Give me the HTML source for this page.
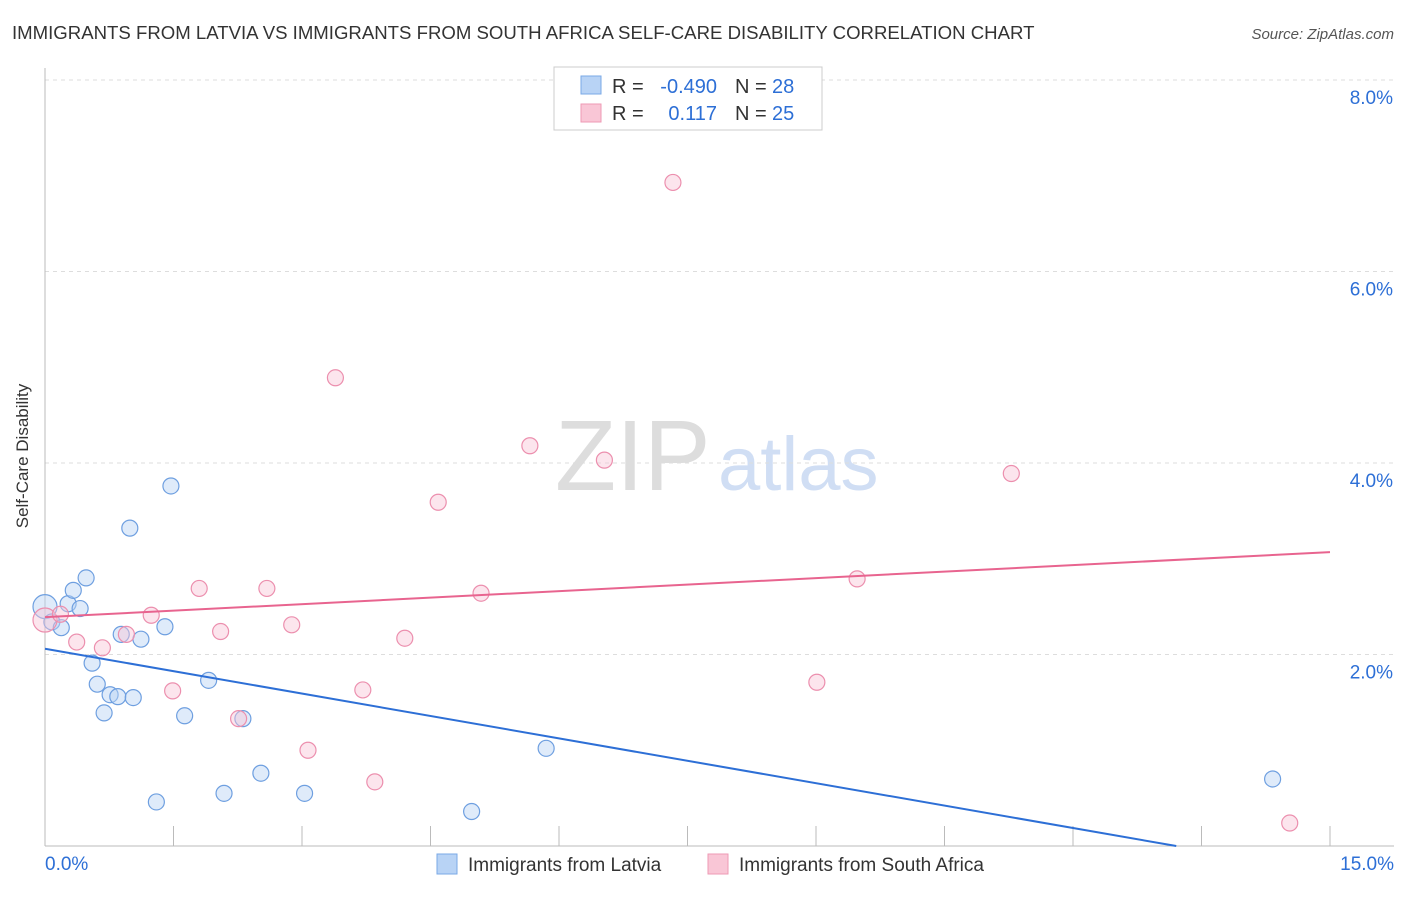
<!DOCTYPE html>
<html><head><meta charset="utf-8"><style>
body{margin:0;background:#fff;font-family:"Liberation Sans",sans-serif}
svg text{font-family:"Liberation Sans",sans-serif}
</style></head><body>
<svg id="chart" width="1406" height="892" xmlns="http://www.w3.org/2000/svg">
<text x="12" y="39" font-size="18.6" fill="#333">IMMIGRANTS FROM LATVIA VS IMMIGRANTS FROM SOUTH AFRICA SELF-CARE DISABILITY CORRELATION CHART</text>
<text x="1394" y="39" font-size="15" fill="#555" font-style="italic" text-anchor="end">Source: ZipAtlas.com</text>
<text x="28" y="456" font-size="17" fill="#333" text-anchor="middle" transform="rotate(-90 28 456)">Self-Care Disability</text>
<text x="555" y="490" font-size="100" fill="#ddd" font-family="Liberation Serif">ZIP</text>
<text x="718" y="490" font-size="76" fill="#d0def4">atlas</text>
<g id="grid"></g><g id="axes"></g><g id="marks"></g>
<g>
<rect x="554" y="67" width="268" height="63" fill="#fff" stroke="#ccc"/>
<rect x="581" y="76" width="20" height="18" fill="#b8d3f5" stroke="#7aa8e6"/>
<rect x="581" y="104" width="20" height="18" fill="#f9c6d6" stroke="#ee9ab4"/>
<text x="612" y="93" font-size="20" fill="#333">R =</text>
<text x="717" y="93" font-size="20" fill="#2d6fd6" text-anchor="end">-0.490</text>
<text x="735" y="93" font-size="20" fill="#333">N =</text>
<text x="772" y="93" font-size="20" fill="#2d6fd6">28</text>
<text x="612" y="120" font-size="20" fill="#333">R =</text>
<text x="717" y="120" font-size="20" fill="#2d6fd6" text-anchor="end">0.117</text>
<text x="735" y="120" font-size="20" fill="#333">N =</text>
<text x="772" y="120" font-size="20" fill="#2d6fd6">25</text>
</g>
<g>
<rect x="437" y="854" width="20" height="20" fill="#b8d3f5" stroke="#7aa8e6"/>
<text x="468" y="871" font-size="19" fill="#333">Immigrants from Latvia</text>
<rect x="708" y="854" width="20" height="20" fill="#f9c6d6" stroke="#ee9ab4"/>
<text x="739" y="871" font-size="19" fill="#333">Immigrants from South Africa</text>
</g>
</svg>
<script>
const latviaX=[0,0.08,0.19,0.27,0.33,0.41,0.48,0.55,0.61,0.69,0.76,0.85,0.89,1.03,0.99,1.12,1.30,1.40,1.47,1.63,1.91,2.09,2.31,2.52,3.03,4.98,5.85,14.33];
const latviaY=[2.50,2.34,2.28,2.53,2.67,2.48,2.80,1.91,1.69,1.39,1.58,1.56,2.21,1.55,3.32,2.16,0.46,2.29,3.76,1.36,1.73,0.55,1.33,0.76,0.55,0.36,1.02,0.70];
const africaX=[0,0.18,0.37,0.67,0.95,1.24,1.49,1.80,2.05,2.26,2.59,2.88,3.07,3.39,3.71,3.85,4.20,4.59,5.09,5.66,6.53,7.33,9.01,9.48,11.28,14.53];
const africaY=[2.36,2.42,2.13,2.07,2.21,2.41,1.62,2.69,2.24,1.33,2.69,2.31,1.00,4.89,1.63,0.67,2.17,3.59,2.64,4.18,4.03,6.93,1.71,2.79,3.89,0.24];
const latviaTrend=[2.06,-0.156];
const africaTrend=[2.39,0.0453];
const yTicks=[2,4,6,8];
const xTickVals=[0,1.5,3,4.5,6,7.5,9,10.5,12,13.5,15];
const NS="http://www.w3.org/2000/svg";
const sx=v=>45+v*1285/15, sy=v=>846-v*95.75;
function mk(t,a,p){const e=document.createElementNS(NS,t);for(const k in a)e.setAttribute(k,a[k]);document.getElementById(p).appendChild(e);return e;}
yTicks.forEach(t=>{
 const l=mk('line',{x1:45,x2:1394,y1:sy(t),y2:sy(t),stroke:'#ddd','stroke-dasharray':'4,4'},'grid');
 
 
 const tx=mk('text',{x:1393,y:sy(t)+24,'font-size':19,fill:'#2d6fd6','text-anchor':'end'},'grid');tx.textContent=t.toFixed(1)+'%';
 
 
});
const ya=mk('line',{x1:45,x2:45,y1:68,y2:846,stroke:'#bbb'},'axes');


const xa=mk('line',{x1:45,x2:1394,y1:846,y2:846,stroke:'#bbb'},'axes');


xTickVals.forEach(t=>{const l=mk('line',{x1:sx(t),x2:sx(t),y1:826,y2:846,stroke:'#bbb'},'axes');
 
 });
const x0=mk('text',{x:45,y:870,'font-size':19,fill:'#2d6fd6'},'axes');x0.textContent='0.0%';


const x1=mk('text',{x:1394,y:870,'font-size':19,fill:'#2d6fd6','text-anchor':'end'},'axes');x1.textContent='15.0%';


function pts(X,Y,fill,stroke,name){X.forEach((x,i)=>{const c=mk('circle',{cx:sx(x),cy:sy(Y[i]),r:i==0?12:8,fill:fill,'fill-opacity':0.45,stroke:stroke,'stroke-width':1.2},'marks');
 
 });}
pts(latviaX,latviaY,'#b8d3f5','#6e9fe0','latvia-point');
pts(africaX,africaY,'#f9c6d6','#ec8fae','south-africa-point');
const lEnd=Math.min(15,-latviaTrend[0]/latviaTrend[1]);
const lt=mk('line',{x1:sx(0),y1:sy(latviaTrend[0]),x2:sx(lEnd),y2:sy(latviaTrend[0]+latviaTrend[1]*lEnd),stroke:'#2d6fd6','stroke-width':2},'marks');


const at=mk('line',{x1:sx(0),y1:sy(africaTrend[0]),x2:sx(15),y2:sy(africaTrend[0]+africaTrend[1]*15),stroke:'#e8648f','stroke-width':2},'marks');


</script>
</body></html>
